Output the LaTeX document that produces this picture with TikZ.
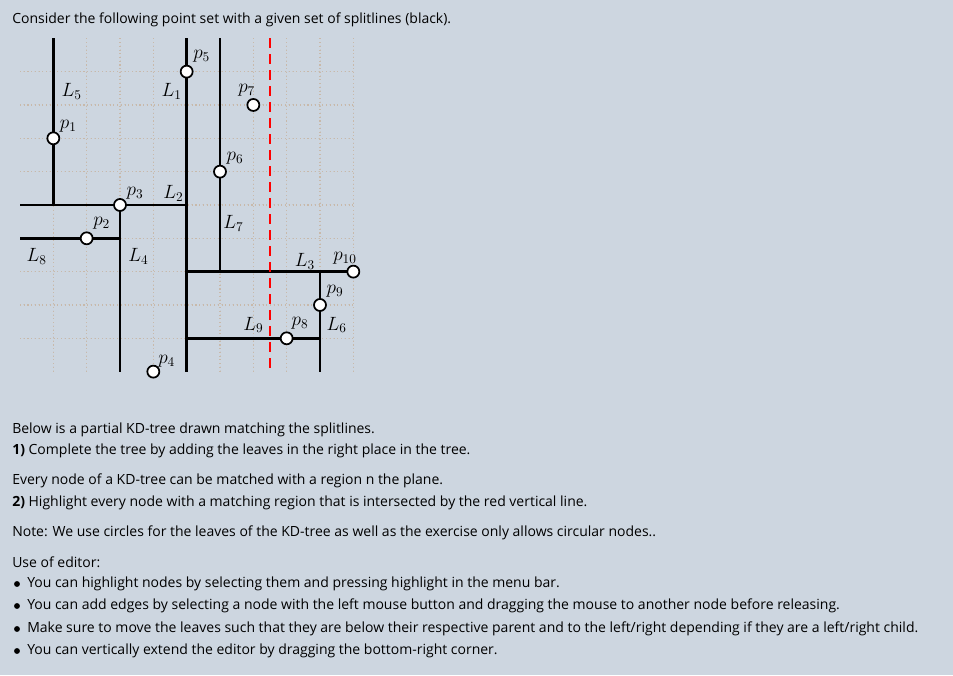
\documentclass[tikz,border=0pt]{standalone}
\usepackage{fontspec}
\setsansfont{Open Sans}
\begin{document}
\begin{tikzpicture}[x=0.75pt,y=-0.75pt,
  pt/.style={circle,draw,fill=white,line width=1.3pt,inner sep=0pt,minimum size=9pt},
  sl/.style={line width=1.8pt},
  lab/.style={font=\Large},
  txt/.style={anchor=west,font=\sffamily\fontsize{10.5pt}{12pt}\selectfont,inner sep=0pt}]
\fill[fill={rgb,255:red,205;green,214;blue,224}] (0,0) rectangle (953,675);
\useasboundingbox (0,0) rectangle (953,675);
\node[txt] (t0) at (12,20) {Consider the following point set with a given set of splitlines (black).};
\begin{scope}[shift={(20,38.3)},x=25pt,y=-25pt]
  \foreach \i in {1,...,10} \foreach \j in {1,...,9}
    \draw[dotted,color={rgb,255:red,200;green,185;blue,170},line width=0.8pt] (\i,0) -- (\i,10) (0,\j) -- (10,\j);
  \coordinate (a5t) at (1,0); \coordinate (a5b) at (1,5);
  \coordinate (a1t) at (5,0); \coordinate (a1b) at (5,10);
  \coordinate (a7t) at (6,0); \coordinate (a7b) at (6,7);
  \coordinate (a2l) at (0,5); \coordinate (a2r) at (5,5);
  \coordinate (a4t) at (3,5); \coordinate (a4b) at (3,10);
  \coordinate (a8l) at (0,6); \coordinate (a8r) at (3,6);
  \coordinate (a3l) at (5,7); \coordinate (a3r) at (10,7);
  \coordinate (a6t) at (9,7); \coordinate (a6b) at (9,10);
  \coordinate (a9l) at (5,9); \coordinate (a9r) at (9,9);
  \coordinate (rt) at (7.5,0); \coordinate (rb) at (7.5,10);
  \draw[sl] (a5t)--(a5b) (a1t)--(a1b) (a7t)--(a7b) (a2l)--(a2r) (a4t)--(a4b)
    (a8l)--(a8r) (a3l)--(a3r) (a6t)--(a6b) (a9l)--(a9r);
  \draw[red,dashed,line width=1.8pt,dash pattern=on 7pt off 5pt] (rt)--(rb);
  \node[pt] (p1) at (1,3) {}; \node[pt] (p2) at (2,6) {}; \node[pt] (p3) at (3,5) {};
  \node[pt] (p4) at (4,10) {}; \node[pt] (p5) at (5,1) {}; \node[pt] (p6) at (6,4) {};
  \node[pt] (p7) at (7,2) {}; \node[pt] (p8) at (8,9) {}; \node[pt] (p9) at (9,8) {};
  \node[pt] (p10) at (10,7) {};
  \node[lab] (lp1) at (1.45,2.65) {$p_1$}; \node[lab] (lp2) at (2.45,5.55) {$p_2$};
  \node[lab] (lp3) at (3.45,4.65) {$p_3$}; \node[lab] (lp4) at (4.4,9.7) {$p_4$};
  \node[lab] (lp5) at (5.45,0.55) {$p_5$}; \node[lab] (lp6) at (6.45,3.6) {$p_6$};
  \node[lab] (lp7) at (6.8,1.55) {$p_7$}; \node[lab] (lp8) at (8.4,8.55) {$p_8$};
  \node[lab] (lp9) at (9.45,7.6) {$p_9$}; \node[lab] (lp10) at (9.75,6.6) {$p_{10}$};
  \node[lab] (l1) at (4.55,1.6) {$L_1$}; \node[lab] (l2) at (4.6,4.65) {$L_2$};
  \node[lab] (l3) at (8.55,6.7) {$L_3$}; \node[lab] (l4) at (3.55,6.55) {$L_4$};
  \node[lab] (l5) at (1.55,1.6) {$L_5$}; \node[lab] (l6) at (9.5,8.6) {$L_6$};
  \node[lab] (l7) at (6.4,5.55) {$L_7$}; \node[lab] (l8) at (0.5,6.55) {$L_8$};
  \node[lab] (l9) at (7,8.6) {$L_9$};
\end{scope}
\node[txt] (t1) at (12,430) {Below is a partial KD-tree drawn matching the splitlines.};
\node[txt] (t2) at (12,451) {\textbf{1)} Complete the tree by adding the leaves in the right place in the tree.};
\node[txt] (t3) at (12,481) {Every node of a KD-tree can be matched with a region n the plane.};
\node[txt] (t4) at (12,503) {\textbf{2)} Highlight every node with a matching region that is intersected by the red vertical line.};
\node[txt] (t5) at (12,533) {Note: We use circles for the leaves of the KD-tree as well as the exercise only allows circular nodes..};
\node[txt] (t6) at (12,562) {Use of editor:};
\foreach \y/\s [count=\k] in {584/{You can highlight nodes by selecting them and pressing highlight in the menu bar.},
  606/{You can add edges by selecting a node with the left mouse button and dragging the mouse to another node before releasing.},
  629/{Make sure to move the leaves such that they are below their respective parent and to the left/right depending if they are a left/right child.},
  651/{You can vertically extend the editor by dragging the bottom-right corner.}}{
  \fill (17,\y) circle (2.2pt);
  \node[txt] (b\k) at (27,\y) {\s};
}
\end{tikzpicture}
\end{document}
